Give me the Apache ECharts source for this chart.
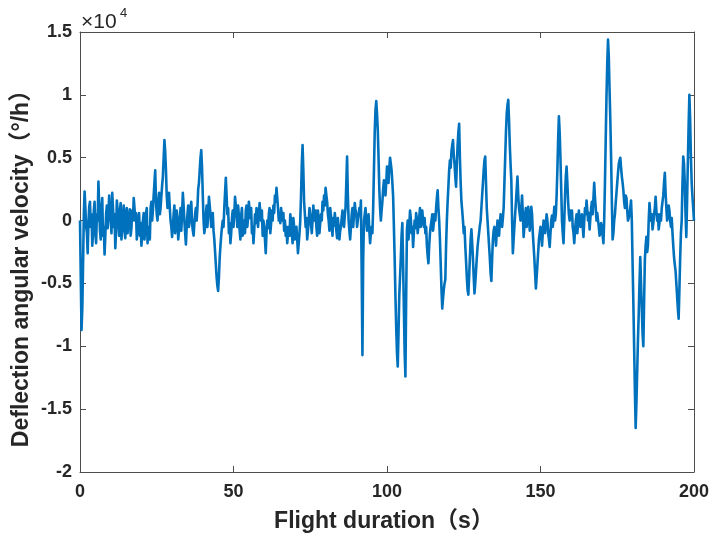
<!DOCTYPE html>
<html>
<head>
<meta charset="utf-8">
<script src="https://cdn.jsdelivr.net/npm/echarts@6/dist/echarts.min.js"></script>
<style>
html,body{margin:0;padding:0;background:#fff;}
#chart{width:712px;height:537px;}
</style>
</head>
<body>
<div id="chart"></div>
<script>
// Flight duration sampling step (s)
const timeStep = 0.25;
// Deflection angular velocity, in units of 10^4 °/h, one value every 0.25 s from t = 0 to 200 s
const deflectionRate = [
  0.0,
  -0.45,-0.87,-0.7,-0.35,0.05,0.23,0.1,-0.05,-0.1,-0.26,-0.02,0.11,0.15,-0.05,0.05,-0.2,-0.1,0.08,0.15,-0.1,
  -0.18,0.05,0.0,0.31,0.12,-0.08,-0.15,0.1,0.18,-0.12,-0.05,-0.27,-0.12,0.05,0.12,-0.06,0.02,0.2,0.08,0.02,
  -0.1,0.22,0.1,-0.05,0.05,-0.22,-0.08,0.16,0.08,0.0,-0.12,0.08,0.14,-0.15,-0.05,0.05,0.12,-0.08,-0.14,0.06,
  0.1,-0.1,-0.02,0.04,0.09,-0.12,-0.06,0.08,0.0,0.18,0.1,0.0,0.06,-0.15,-0.08,0.02,0.06,-0.12,-0.02,-0.2,
  -0.12,0.0,0.06,-0.15,-0.06,0.05,0.1,-0.18,-0.1,-0.05,-0.15,0.1,0.15,0.0,0.08,0.2,0.3,0.4,0.15,0.05,
  0.0,0.15,0.22,0.05,0.1,0.19,0.28,0.35,0.5,0.64,0.55,0.4,0.2,0.1,0.15,0.22,0.1,0.0,-0.05,-0.13,
  -0.05,0.05,0.12,-0.1,-0.02,0.08,0.0,-0.15,-0.08,0.02,0.1,-0.08,0.05,0.22,0.12,0.0,-0.1,-0.19,-0.05,0.05,
  0.12,-0.05,0.02,0.1,0.15,-0.02,-0.08,-0.12,-0.02,0.05,0.1,0.0,0.1,0.25,0.3,0.4,0.5,0.56,0.42,0.2,
  0.0,-0.1,-0.05,0.05,0.12,-0.05,0.05,0.19,0.12,0.05,-0.05,0.0,0.06,-0.08,-0.15,-0.25,-0.35,-0.45,-0.52,-0.56,
  -0.45,-0.3,-0.2,-0.12,-0.05,0.0,-0.05,0.1,0.22,0.34,0.2,0.05,0.1,-0.1,-0.02,-0.18,-0.1,0.02,0.08,-0.05,
  0.05,0.19,0.12,0.05,-0.05,0.12,0.04,-0.08,-0.15,0.04,0.1,-0.12,-0.05,0.0,-0.1,0.08,0.12,-0.05,0.02,0.15,
  0.08,0.02,0.1,-0.1,-0.05,-0.18,-0.08,0.05,-0.02,0.1,0.03,-0.05,0.05,0.14,0.06,0.0,0.08,-0.12,0.0,-0.05,
  -0.15,-0.26,-0.1,0.0,-0.06,0.05,0.1,-0.1,-0.02,0.08,0.0,0.12,0.06,0.2,0.15,0.26,0.18,0.1,0.0,0.05,
  -0.02,0.1,0.04,0.0,0.06,-0.08,0.0,-0.12,-0.05,-0.18,-0.1,-0.05,-0.12,0.05,0.0,-0.1,-0.18,0.02,-0.05,-0.15,
  -0.1,-0.05,-0.15,-0.26,-0.18,-0.1,0.0,0.2,0.45,0.6,0.4,0.15,0.05,-0.05,0.02,-0.15,-0.08,0.0,0.1,0.05,
  -0.03,-0.1,0.0,0.12,0.05,0.0,0.08,-0.05,-0.12,0.08,0.0,-0.1,-0.02,0.05,0.0,0.15,0.08,0.2,0.12,0.26,
  0.2,0.15,0.05,0.0,-0.08,0.1,0.04,-0.05,-0.12,0.02,-0.04,0.06,0.0,-0.08,-0.14,0.02,-0.06,-0.15,-0.08,-0.05,
  0.02,0.08,-0.02,-0.05,0.04,0.1,0.3,0.51,0.2,0.0,-0.08,-0.15,-0.05,0.05,0.1,-0.05,0.05,0.14,0.08,0.05,
  -0.05,0.0,0.05,0.1,0.04,0.16,-0.4,-1.07,-0.3,0.0,0.05,0.1,0.0,-0.08,-0.02,0.05,-0.08,-0.18,-0.1,-0.05,
  -0.1,0.1,0.4,0.7,0.88,0.95,0.85,0.72,0.5,0.25,0.1,0.0,0.08,0.15,0.25,0.32,0.28,0.2,0.3,0.43,
  0.38,0.3,0.42,0.5,0.45,0.4,0.3,0.19,-0.05,-0.3,-0.6,-0.85,-1.05,-1.16,-0.9,-0.6,-0.45,-0.3,-0.12,-0.02,
  -0.35,-0.7,-1.05,-1.24,-0.6,-0.07,0.0,-0.15,-0.05,0.08,0.02,-0.1,-0.05,-0.21,-0.1,0.0,-0.06,0.06,0.0,-0.1,
  -0.04,0.03,0.1,-0.05,0.02,0.08,0.0,-0.05,0.02,-0.1,-0.05,-0.2,-0.28,-0.34,-0.2,-0.1,-0.04,0.0,0.05,-0.08,
  -0.02,0.05,0.0,0.1,0.18,0.24,0.1,0.0,-0.15,-0.35,-0.55,-0.7,-0.62,-0.55,-0.5,-0.47,-0.2,0.0,0.15,0.27,
  0.4,0.48,0.42,0.55,0.6,0.64,0.52,0.45,0.35,0.27,0.45,0.6,0.7,0.77,0.5,0.3,0.15,0.08,0.0,-0.1,
  -0.05,-0.2,-0.32,-0.45,-0.55,-0.59,-0.45,-0.3,-0.15,-0.07,-0.18,-0.3,-0.45,-0.58,-0.5,-0.4,-0.3,-0.21,-0.15,-0.1,
  -0.04,0.0,0.1,0.2,0.3,0.4,0.48,0.51,0.3,0.1,0.0,-0.1,-0.2,-0.3,-0.42,-0.48,-0.3,-0.15,-0.08,-0.05,
  -0.12,-0.2,-0.1,0.0,-0.05,-0.12,-0.02,0.05,0.0,-0.05,0.02,0.1,0.3,0.5,0.7,0.85,0.92,0.96,0.8,0.6,
  0.45,0.32,0.0,-0.26,-0.15,-0.05,0.05,0.15,0.25,0.35,0.2,0.1,0.05,0.0,0.1,0.2,0.05,-0.13,-0.05,0.05,
  0.1,-0.05,0.02,0.11,0.04,-0.08,0.0,0.11,0.05,-0.1,-0.2,-0.3,-0.42,-0.54,-0.45,-0.35,-0.25,-0.15,-0.1,-0.05,
  -0.12,-0.2,-0.1,0.0,-0.05,-0.1,-0.02,0.05,0.0,-0.1,-0.15,-0.21,-0.1,0.0,0.04,-0.05,0.02,0.11,0.0,0.05,
  0.2,0.4,0.65,0.83,0.7,0.5,0.25,0.0,-0.1,-0.18,0.0,0.2,0.35,0.43,0.3,0.15,0.05,0.0,0.08,0.03,
  0.08,-0.05,-0.1,-0.18,-0.08,0.0,0.05,-0.1,-0.02,0.08,0.0,-0.05,0.02,0.05,-0.05,-0.13,0.0,0.1,0.05,0.16,
  0.08,0.0,0.06,-0.07,0.02,0.1,0.15,0.05,0.18,0.3,0.18,0.1,0.0,0.06,0.0,-0.05,-0.12,-0.1,-0.02,-0.05,
  -0.12,-0.18,0.0,0.3,0.65,0.99,1.25,1.44,1.3,1.04,0.8,0.5,0.15,-0.15,-0.1,0.0,0.05,0.14,0.22,0.3,
  0.38,0.45,0.48,0.5,0.42,0.35,0.3,0.24,0.15,0.1,0.2,0.18,0.08,0.0,0.02,0.05,0.1,0.16,0.0,-0.34,
  -0.65,-1.0,-1.35,-1.65,-1.45,-1.2,-0.95,-0.74,-0.5,-0.29,-0.5,-0.7,-0.9,-1.0,-0.65,-0.31,-0.2,-0.13,-0.25,-0.2,
  0.0,0.14,0.06,0.0,0.05,-0.07,-0.02,0.05,0.1,0.19,0.08,0.0,0.05,-0.07,-0.02,0.05,0.0,0.1,0.15,0.2,
  0.3,0.38,0.22,0.1,0.0,0.03,0.12,0.08,0.0,-0.05,0.02,-0.1,-0.2,-0.29,-0.35,-0.4,-0.5,-0.6,-0.7,-0.78,
  -0.55,-0.3,-0.1,0.0,0.3,0.51,0.45,0.3,0.05,-0.13,0.15,0.46,0.75,1.0,0.8,0.5,0.3,0.19,0.1,0.0
];
const xTicks = [0, 50, 100, 150, 200];
const yTicks = [-2, -1.5, -1, -0.5, 0, 0.5, 1, 1.5];
const xTitle = 'Flight duration（s）';
const yTitle = 'Deflection angular velocity（°/h）';
const scaleLabel = '×10';
const scaleExp = '4';

const seriesData = deflectionRate.map((v, i) => [i * timeStep, v]);

const FONT = "'Liberation Sans', Arial, 'Noto Sans CJK SC', sans-serif";
const axisColor = '#4d4d4d';
const textColor = '#262626';

const chart = echarts.init(document.getElementById('chart'), null, {renderer: 'canvas'});

const baseX = {
  type: 'value', min: xTicks[0], max: xTicks[xTicks.length - 1], interval: 50,
  axisLine: {show: true, onZero: false, lineStyle: {color: axisColor, width: 1}},
  axisTick: {show: true, inside: true, length: 6, lineStyle: {color: axisColor}},
  splitLine: {show: false}
};
const baseY = {
  type: 'value', min: yTicks[0], max: yTicks[yTicks.length - 1], interval: 0.5,
  axisLine: {show: true, onZero: false, lineStyle: {color: axisColor, width: 1}},
  axisTick: {show: true, inside: true, length: 6, lineStyle: {color: axisColor}},
  splitLine: {show: false}
};

chart.setOption({
  animation: false,
  backgroundColor: '#ffffff',
  grid: {left: 80, right: 18, top: 32, bottom: 65, containLabel: false},
  xAxis: [
    Object.assign({}, baseX, {
      position: 'bottom',
      axisLabel: {show: true, margin: 11, color: textColor, fontWeight: 'bold', fontSize: 18, fontFamily: FONT}
    }),
    Object.assign({}, baseX, {position: 'top', axisLabel: {show: false}})
  ],
  yAxis: [
    Object.assign({}, baseY, {
      position: 'left',
      axisLabel: {show: true, margin: 8, color: textColor, fontWeight: 'bold', fontSize: 18, fontFamily: FONT}
    }),
    Object.assign({}, baseY, {position: 'right', axisLabel: {show: false}})
  ],
  graphic: [
    {type: 'text', x: 384, y: 522, style: {text: xTitle, font: 'bold 23px ' + FONT, fill: textColor, textAlign: 'center', textVerticalAlign: 'middle'}},
    {type: 'text', x: 22, y: 263, rotation: Math.PI / 2, style: {text: yTitle, font: 'bold 23px ' + FONT, fill: textColor, textAlign: 'center', textVerticalAlign: 'middle'}},
    {type: 'text', x: 81, y: 22, style: {text: scaleLabel, font: '21px ' + FONT, fill: textColor, textAlign: 'left', textVerticalAlign: 'middle'}},
    {type: 'text', x: 120, y: 13, style: {text: scaleExp, font: '13px ' + FONT, fill: textColor, textAlign: 'left', textVerticalAlign: 'middle'}}
  ],
  series: [{
    type: 'line',
    xAxisIndex: 0, yAxisIndex: 0,
    data: seriesData,
    showSymbol: false,
    smooth: false,
    lineStyle: {color: '#0072BD', width: 2.6, join: 'round'},
    clip: true
  }]
});
</script>
</body>
</html>
